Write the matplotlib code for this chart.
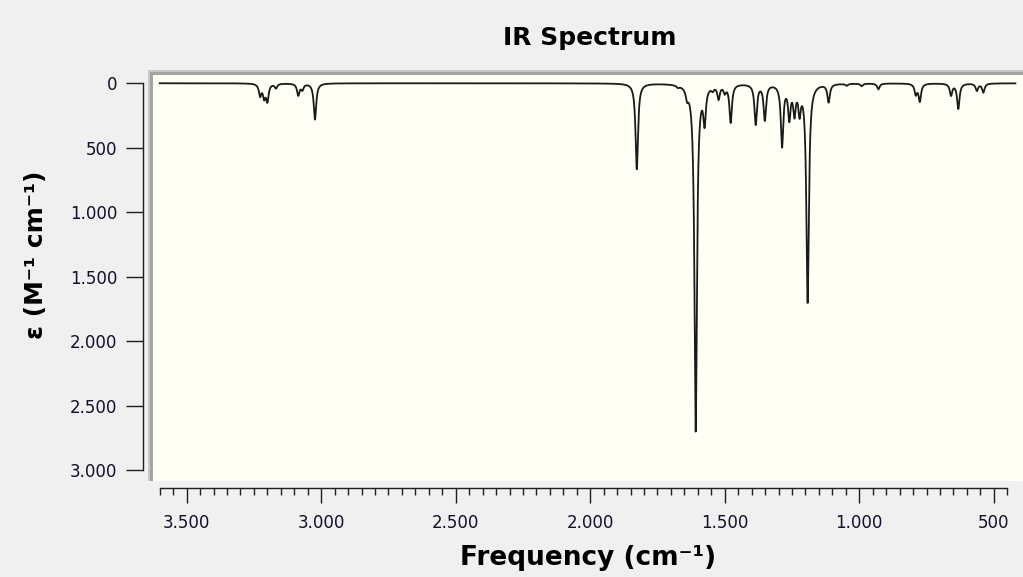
import numpy as np
import matplotlib
matplotlib.use("Agg")
import matplotlib.pyplot as plt
from matplotlib.patches import Rectangle
from matplotlib.ticker import FixedLocator, FuncFormatter

# peaks: position (cm-1) and height (M-1 cm-1)
peak_freq = [3227, 3212, 3200, 3168, 3085, 3070, 3023,
             1827, 1674, 1640, 1608, 1575, 1545, 1523, 1500, 1478,
             1385, 1351, 1287, 1260, 1241, 1222, 1192, 1114,
             1047, 991, 929, 790, 775, 659, 632, 563, 539]
peak_eps = [90, 100, 130, 35, 90, 45, 280,
            665, 15, 70, 2690, 270, 30, 105, 55, 295,
            310, 275, 475, 250, 210, 195, 1690, 140,
            15, 20, 45, 80, 135, 90, 195, 55, 70]
half_width = 5.5  # cm-1, lorentzian broadening

x_major = [3500, 3000, 2500, 2000, 1500, 1000, 500]
y_major = [0, 500, 1000, 1500, 2000, 2500, 3000]

freq = np.arange(3600, 419.75, -0.25)
eps = np.zeros_like(freq)
for f0, h in zip(peak_freq, peak_eps):
    eps += h / (1 + ((freq - f0) / half_width) ** 2)

W, H = 1023, 577
fig = plt.figure(figsize=(W / 100, H / 100), dpi=100, facecolor='#f0f0f0')


def fx(px):
    return px / W


def fy(py):
    return 1 - py / H


# sunken grey frame round the plot area
fig.add_artist(Rectangle((fx(148), fy(481)), fx(1023) - fx(148), fy(70) - fy(481),
                         transform=fig.transFigure, facecolor='#c8c8c8', edgecolor='none', zorder=-2))
fig.add_artist(Rectangle((fx(150), fy(481)), fx(1023) - fx(150), fy(72) - fy(481),
                         transform=fig.transFigure, facecolor='#a4a4a4', edgecolor='none', zorder=-1))

ax = fig.add_axes([fx(153), fy(481), fx(1023) - fx(153), fy(75) - fy(481)], facecolor='#fffff5')
ax.plot(freq, eps, color='#1a1a1a', lw=1.3)
ax.set_xlim(3625, 391.5)
ax.set_ylim(3085, -64)

for s in ['top', 'right']:
    ax.spines[s].set_visible(False)
ax.spines['left'].set_position(('outward', 7.2))
ax.spines['left'].set_bounds(0, 3000)
ax.spines['bottom'].set_position(('outward', 5))
ax.spines['bottom'].set_bounds(3600, 450)
for s in ['left', 'bottom']:
    ax.spines[s].set_color('#1e1e1e')
    ax.spines[s].set_linewidth(1.0)

fmt = FuncFormatter(lambda v, p: f'{int(v):,}'.replace(',', '.'))
ax.yaxis.set_major_locator(FixedLocator(y_major))
ax.yaxis.set_major_formatter(fmt)
ax.xaxis.set_major_locator(FixedLocator(x_major))
ax.xaxis.set_minor_locator(FixedLocator([v for v in range(450, 3601, 50) if v % 500]))
ax.xaxis.set_major_formatter(fmt)

ax.tick_params(axis='y', which='major', length=12.2, width=1.0, pad=6.5,
               labelsize=12, color='#1e1e1e', labelcolor='#10102a')
ax.tick_params(axis='x', which='major', length=10.8, width=1.0, pad=8,
               labelsize=12, color='#1e1e1e', labelcolor='#10102a')
ax.tick_params(axis='x', which='minor', length=5, width=1.0, color='#1e1e1e')

fig.text(fx(590), fy(38), 'IR Spectrum', ha='center', va='center',
         fontsize=18, fontweight='bold')
fig.text(fx(588), fy(558), 'Frequency (cm⁻¹)', ha='center', va='center',
         fontsize=19, fontweight='bold')
fig.text(fx(36), fy(255), 'ε (M⁻¹ cm⁻¹)', ha='center', va='center', rotation=90,
         fontsize=18, fontweight='bold')

fig.savefig('out.png', dpi=100, facecolor=fig.get_facecolor())
